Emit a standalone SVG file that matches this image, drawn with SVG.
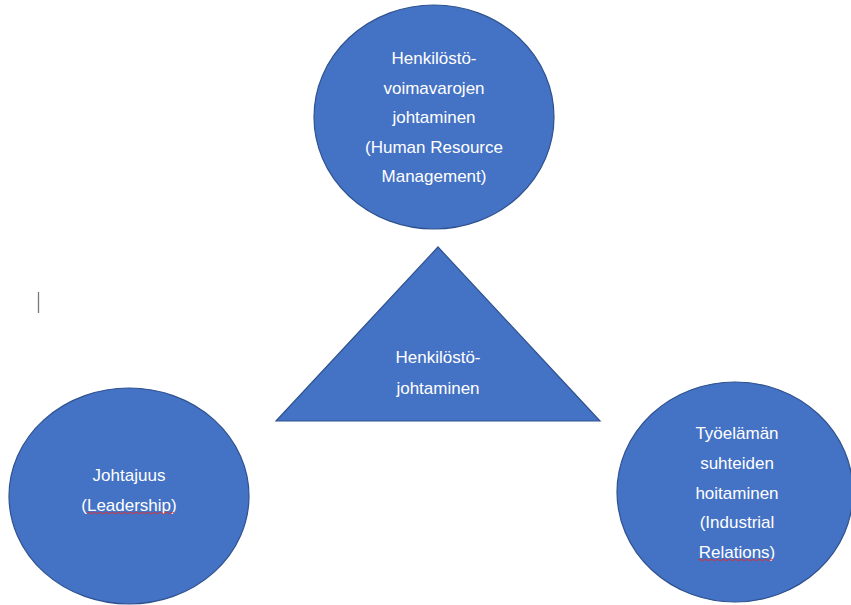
<svg xmlns="http://www.w3.org/2000/svg" width="851" height="605" viewBox="0 0 851 605">
<style>
.shape{fill:#4472C4;stroke:#2F528F;stroke-width:1.2}
.lbl{font-family:"Liberation Sans",Arial,sans-serif;font-size:17px;fill:#FFFFFF;text-anchor:middle}
.sq{fill:none;stroke:#E03030;stroke-width:1}
</style>
<rect width="851" height="605" fill="#FFFFFF"/>
<line x1="38.5" y1="292" x2="38.5" y2="313" stroke="#777777" stroke-width="1.3"/>
<g id="connectors"></g>
<g id="hrm">
<ellipse class="shape" cx="434" cy="117" rx="120" ry="112"/>
<text class="lbl" x="434" y="64">Henkilöstö-</text>
<text class="lbl" x="434" y="94">voimavarojen</text>
<text class="lbl" x="434" y="123">johtaminen</text>
<text class="lbl" x="434" y="153">(Human Resource</text>
<text class="lbl" x="434" y="182">Management)</text>
</g>
<g id="center">
<polygon class="shape" points="438,247 600,421 276,421"/>
<text class="lbl" x="438" y="363">Henkilöstö-</text>
<text class="lbl" x="438" y="394">johtaminen</text>
</g>
<g id="leadership">
<ellipse class="shape" cx="129" cy="496" rx="120" ry="108"/>
<text class="lbl" x="129" y="481">Johtajuus</text>
<text class="lbl" x="129" y="511">(Leadership)</text>
<path class="sq" d="M87,513 q1.5,-1.5 3,0 t3,0 t3,0 t3,0 t3,0 t3,0 t3,0 t3,0 t3,0 t3,0 t3,0 t3,0 t3,0 t3,0 t3,0 t3,0 t3,0 t3,0 t3,0 t3,0 t3,0 t3,0 t3,0 t3,0 t3,0 t3,0 t3,0 t3,0 t3,0"/>
</g>
<g id="industrial">
<ellipse class="shape" cx="735" cy="492" rx="118" ry="110"/>
<text class="lbl" x="737" y="439">Työelämän</text>
<text class="lbl" x="737" y="469">suhteiden</text>
<text class="lbl" x="737" y="499">hoitaminen</text>
<text class="lbl" x="737" y="528">(Industrial</text>
<text class="lbl" x="737" y="558">Relations)</text>
<path class="sq" d="M698,560 q1.5,-1.5 3,0 t3,0 t3,0 t3,0 t3,0 t3,0 t3,0 t3,0 t3,0 t3,0 t3,0 t3,0 t3,0 t3,0 t3,0 t3,0 t3,0 t3,0 t3,0 t3,0 t3,0 t3,0 t3,0 t3,0 t3,0"/>
</g>
</svg>
